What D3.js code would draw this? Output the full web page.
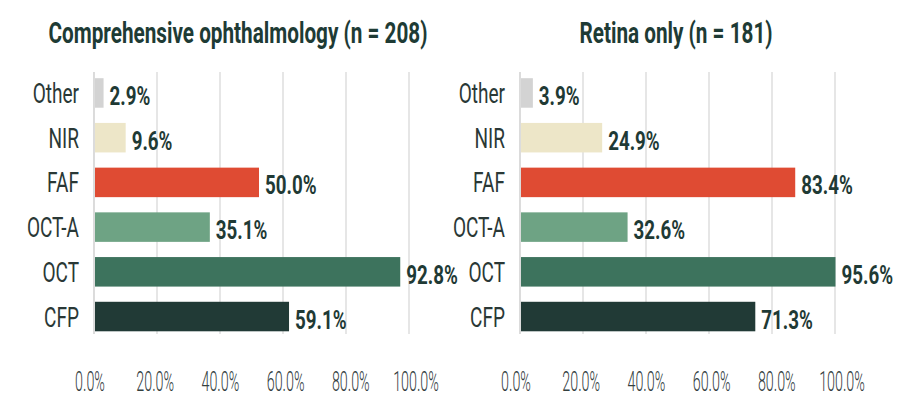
<!DOCTYPE html>
<html>
<head>
<meta charset="utf-8">
<script src="https://cdn.jsdelivr.net/npm/d3@7"></script>
<style>
  body { margin: 0; background: #fff; }
  svg { display: block; }
  text { font-family: Roboto, "Noto Sans", sans-serif; }
</style>
</head>
<body>
<script>
var width = 914, height = 408;

// data
var categories = ["Other", "NIR", "FAF", "OCT-A", "OCT", "CFP"];
var colors = ["#d3d3d3", "#ede6c8", "#df4b33", "#6ea384", "#3d735d", "#213a36"];
var compValues = [2.9, 9.6, 50.0, 35.1, 92.8, 59.1];
var retinaValues = [3.9, 24.9, 83.4, 32.6, 95.6, 71.3];
var ticks = [0, 20, 40, 60, 80, 100];
var titles = ["Comprehensive ophthalmology (n = 208)", "Retina only (n = 181)"];

var panels = [
  {title: titles[0], values: compValues, x0: 94, titleX: 238},
  {title: titles[1], values: retinaValues, x0: 520, titleX: 676}
];

// the source image's gridlines, tick labels and bars don't share one exact scale
var barW = 330, gridW = 315, labelW = 326;
var gridTop = 72, gridBottom = 334;

var svg = d3.select("body").append("svg")
    .attr("width", width)
    .attr("height", height);

var y = d3.scaleBand()
    .domain(categories)
    .range([63, 346.5])
    .paddingInner(0.34)
    .paddingOuter(0.34);

var fmt = d => d.toFixed(1) + "%";

// condensed text helper: horizontal squeeze round the anchor point
function ctext(g, x, yy, str, sx) {
  return g.append("text")
      .attr("transform", `translate(${x},${yy}) scale(${sx},1)`)
      .text(str);
}

panels.forEach(p => {
  var x = d3.scaleLinear().domain([0, 100]).range([p.x0, p.x0 + barW]);
  var xGrid = d3.scaleLinear().domain([0, 100]).range([p.x0, p.x0 + gridW]);
  var xLabel = d3.scaleLinear().domain([0, 100]).range([p.x0 - 4, p.x0 - 4 + labelW]);
  var g = svg.append("g");

  // gridlines
  g.append("g").selectAll("line")
    .data(ticks)
    .join("line")
      .attr("x1", d => xGrid(d)).attr("x2", d => xGrid(d))
      .attr("y1", gridTop).attr("y2", gridBottom)
      .attr("stroke", d => d == 0 ? "#c4c4c4" : "#d6d6d6")
      .attr("stroke-width", 1.2);

  // tick labels
  ticks.forEach(t => {
    ctext(g, xLabel(t), 391, fmt(t), 0.53)
      .attr("text-anchor", "middle")
      .attr("font-size", 27)
      .attr("font-weight", 300)
      .attr("fill", "#34403f");
  });

  // bars
  g.append("g").selectAll("rect")
    .data(p.values)
    .join("rect")
      .attr("x", x(0) + 1)
      .attr("y", (d, i) => y(categories[i]))
      .attr("width", d => x(d) - x(0) - 1)
      .attr("height", y.bandwidth())
      .attr("fill", (d, i) => colors[i]);

  // category labels
  categories.forEach(c => {
    ctext(g, p.x0 - 15, y(c) + y.bandwidth() / 2 + 10, c, 0.68)
      .attr("text-anchor", "end")
      .attr("font-size", 28)
      .attr("fill", "#2a3836");
  });

  // value labels
  p.values.forEach((v, i) => {
    ctext(g, x(v) + 6, y(categories[i]) + y.bandwidth() / 2 + 12, fmt(v), 0.75)
      .attr("font-size", 25)
      .attr("font-weight", 700)
      .attr("fill", "#1f3a35");
  });

  // title
  ctext(g, p.titleX, 43, p.title, 0.715)
    .attr("text-anchor", "middle")
    .attr("font-size", 29)
    .attr("font-weight", 700)
    .attr("fill", "#1e3b35");
});
</script>
</body>
</html>
